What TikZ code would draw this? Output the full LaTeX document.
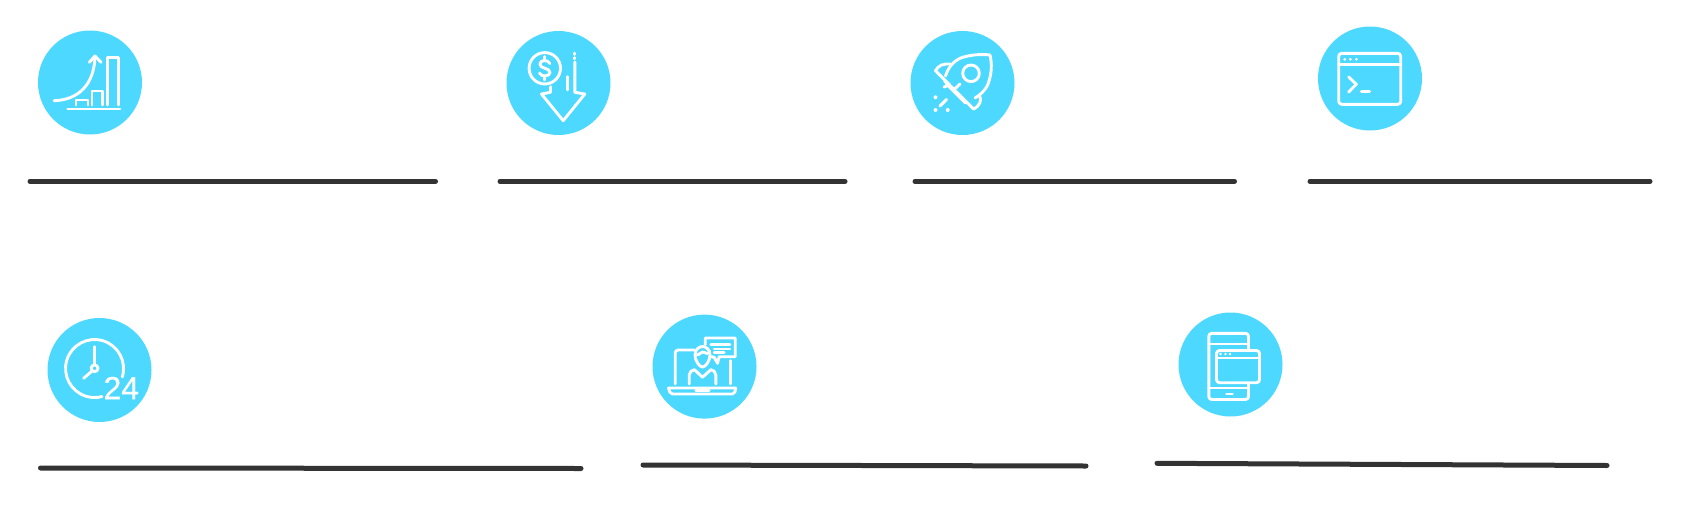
\documentclass[tikz,border=0pt]{standalone}
\usepackage{fontspec}
\setmainfont{Liberation Sans}
\newfontfamily\hoursfont[FakeBold=0.5]{Liberation Sans}
\definecolor{disc}{HTML}{4DD8FF}
\definecolor{rule}{HTML}{333333}
\tikzset{
  discfill/.style={fill=disc,draw=none},
  rulebar/.style={draw=rule,line width=5pt,line cap=round},
  ic/.style={draw=white,line width=2.9pt,line cap=round,line join=round},
  icdot/.style={fill=white,draw=none}
}
\begin{document}
\begin{tikzpicture}[x=1pt,y=1pt,yscale=-1]
\useasboundingbox (0,0) rectangle (1686,514);
% discs
\foreach \cx/\cy in {90/82.5,558.5/83,962.5/83,1370/78.5,99.5/370,704.5/366.6,1230.5/364.5}
  \fill[discfill] (\cx,\cy) circle (52);
% rules
\draw[rulebar] (30,181.3) -- (435.5,181.3);
\draw[rulebar] (500,181.3) -- (845,181.3);
\draw[rulebar] (915,181.3) -- (1234.5,181.3);
\draw[rulebar] (1310,181.3) -- (1650,181.3);
\draw[rulebar] (40.5,468) -- (581,468.5);
\draw[rulebar] (643,465) -- (1086,466);
\draw[rulebar] (1157,463.3) -- (1607,465.5);
% icon 1: growth chart
\draw[ic] (67.7,109) -- (120,109);
\draw[ic] (76,105) -- (76,100) -- (88,100) -- (88,105);
\draw[ic] (92,105) -- (92,91) -- (102.7,91) -- (102.7,105);
\draw[ic] (107.3,105) -- (107.3,57.3) -- (118.7,57.3) -- (118.7,105);
\draw[ic] (54,100.7) .. controls (78,100) and (94,85) .. (95,57);
\draw[ic] (89.3,62.3) -- (95,56) -- (101,62.3);
% icon 2: falling dollar
\draw[ic] (544.8,68.3) circle (15.7);
\draw[ic] (549.8,63.5) .. controls (548.5,59.5) and (540,59.5) .. (539.8,64)
  .. controls (539.7,69) and (550,67.5) .. (550,72.5)
  .. controls (550,77) and (540.5,77) .. (539.5,73);
\draw[ic] (544.8,56.5) -- (544.8,59);
\draw[ic] (544.8,77.5) -- (544.8,80);
\draw[ic] (550.5,86.7) -- (550.5,92.3) -- (541.5,94) -- (563.2,120.7) -- (584.8,94) -- (574.8,92.3) -- (574.8,62);
\draw[ic] (574.8,53) -- (574.8,54.5);
\draw[ic] (574.8,57.5) -- (574.8,58.8);
\draw[ic] (567.2,76.7) -- (567.2,90);
% icon 3: rocket
\draw[ic] (945.5,76) .. controls (948,68) and (953,61) .. (962,57.5)
  .. controls (972,54.5) and (982,54) .. (990,55)
  .. controls (992,64) and (992,73) .. (988,84)
  .. controls (985,91) and (980,95) .. (975,98);
\draw[ic] (935.5,70.7) -- (973.5,109);
\draw[ic] (935.5,70.7) .. controls (938,66) and (943,62.5) .. (952,64.5);
\draw[ic] (944.5,80.5) -- (948,85.5) -- (944,87);
\draw[ic] (948,85.5) -- (965.5,103);
\draw[ic] (979.5,95.5) .. controls (982,100) and (980,106) .. (973.5,109);
\draw[ic] (971,73.3) circle (8.3);
\draw[ic] (953.5,90) -- (960,84);
\draw[ic] (940,106) -- (946.7,99.3);
\fill[icdot] (935.5,97.3) circle (2) (935.5,110) circle (2) (947.7,110) circle (2);
% icon 4: terminal window
\draw[ic,rounded corners=3pt] (1338.7,53.3) rectangle (1400.7,104.3);
\draw[ic] (1338.7,64.3) -- (1400.7,64.3);
\fill[icdot] (1344.7,59.3) circle (1.5) (1350.3,59.3) circle (1.5) (1356.3,59.3) circle (1.5);
\draw[ic] (1348.7,77) -- (1356.3,84.3) -- (1348.7,92);
\draw[ic] (1361.3,91.7) -- (1369.7,91.7);
% icon 5: 24h clock
\draw[ic] (122.3,377) arc[start angle=17,end angle=-285,radius=29];
\draw[ic] (94.6,368.3) circle (3.4);
\draw[ic] (94.6,346.7) -- (94.6,364.5);
\draw[ic] (83.6,378.3) -- (92,371);
\node[white,font=\hoursfont\fontsize{32}{32}\selectfont,inner sep=0pt,anchor=center] (hours) at (121.3,388) {24};
% icon 6: online consultant
\draw[ic] (668.5,388) -- (735.8,388) .. controls (735.5,391) and (734.5,394) .. (732.5,394) -- (672.5,394) .. controls (670.5,394) and (668.8,391) .. (668.5,388) -- cycle;
\draw[ic] (695.8,390.5) -- (709.2,390.5);
\draw[ic,rounded corners=3pt] (675.2,384) -- (675.2,350) -- (694.2,350);
\draw[ic] (730.8,360.7) -- (730.8,384);
\draw[ic] (695,355) .. controls (695,349) and (699.5,346.5) .. (702.5,346.5)
  .. controls (705.5,346.5) and (710,349) .. (710,355)
  .. controls (710,361) and (705.5,367) .. (702.5,367)
  .. controls (699.5,367) and (695,361) .. (695,355) -- cycle;
\draw[ic] (697.5,355) -- (702.5,352) -- (707.5,353.5);
\draw[ic] (689.2,384) -- (689.2,375) .. controls (689.2,372) and (692,370) .. (694.5,369.7) -- (702.5,377.3) -- (710.8,369.7) .. controls (713.3,370) and (715.8,372) .. (715.8,375) -- (715.8,384);
\draw[ic] (705.2,344.7) -- (705.2,338) -- (735.2,338) -- (735.2,356.7) -- (719.2,356.7) -- (717.5,363.3) -- (714.2,357.3) -- (711.5,356.7);
\draw[ic] (710.8,344.7) -- (729.8,344.7);
\draw[ic] (714.2,349) -- (729.8,349);
\draw[ic] (714.2,352.3) -- (724.2,352.3);
% icon 7: tablet and window
\draw[ic,rounded corners=3pt] (1208.8,382.7) -- (1208.8,333.3) -- (1248.5,333.3) -- (1248.5,350);
\draw[ic] (1208.8,344) -- (1248.5,344);
\draw[ic,rounded corners=3pt] (1216.5,350.5) rectangle (1259.5,382.7);
\draw[ic] (1216.5,358) -- (1259.5,358);
\fill[icdot] (1220.5,354) circle (1.4) (1225.5,354) circle (1.4) (1230,354) circle (1.4);
\draw[ic,rounded corners=3pt] (1208.8,382.7) -- (1208.8,399.5) -- (1248.5,399.5) -- (1248.5,383);
\draw[ic] (1208.8,388) -- (1248.5,388);
\draw[ic] (1226.5,394) -- (1232.5,394);
\end{tikzpicture}
\end{document}
